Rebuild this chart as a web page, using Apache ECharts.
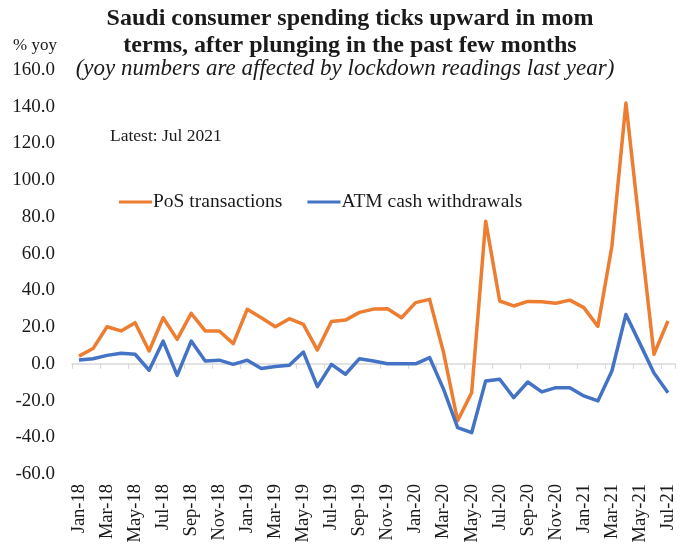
<!DOCTYPE html>
<html>
<head>
<meta charset="utf-8">
<script src="https://cdn.jsdelivr.net/npm/echarts@6/dist/echarts.min.js"></script>
<style>
  html, body { margin: 0; padding: 0; background: #fff; }
  #chart { width: 682px; height: 546px; }
</style>
</head>
<body>
<div id="chart"></div>
<script>
// Monthly categories, Jan-18 .. Jul-21
const months = [
  'Jan-18','Feb-18','Mar-18','Apr-18','May-18','Jun-18','Jul-18','Aug-18','Sep-18','Oct-18','Nov-18','Dec-18',
  'Jan-19','Feb-19','Mar-19','Apr-19','May-19','Jun-19','Jul-19','Aug-19','Sep-19','Oct-19','Nov-19','Dec-19',
  'Jan-20','Feb-20','Mar-20','Apr-20','May-20','Jun-20','Jul-20','Aug-20','Sep-20','Oct-20','Nov-20','Dec-20',
  'Jan-21','Feb-21','Mar-21','Apr-21','May-21','Jun-21','Jul-21'
];

// PoS transactions, % yoy
const posTransactions = [
  4.2, 8.3, 20.2, 17.9, 22.4, 7.0, 25.1, 13.3, 27.5, 17.9, 17.9, 11.0,
  29.7, 25.1, 20.2, 24.6, 21.5, 7.5, 23.0, 23.8, 28.0, 29.8, 30.0, 25.1,
  33.3, 35.1, 6.0, -31.0, -15.7, 77.7, 34.2, 31.5, 34.0, 33.8, 33.0, 34.7,
  30.6, 20.4, 64.0, 142.0, 73.0, 5.2, 23.3
];

// ATM cash withdrawals, % yoy
const atmWithdrawals = [
  2.1, 2.8, 4.6, 5.7, 5.2, -3.5, 12.4, -6.3, 12.4, 1.5, 2.0, -0.3,
  2.0, -2.5, -1.5, -0.8, 6.4, -12.4, -0.3, -5.7, 2.8, 1.5, 0.0, 0.0,
  0.0, 3.4, -13.9, -34.7, -37.5, -9.3, -8.4, -18.4, -9.9, -15.3, -13.0, -13.0,
  -17.5, -20.2, -3.9, 26.9, 11.0, -5.0, -15.7
];

const titleLines = [
  'Saudi consumer spending ticks upward in mom',
  'terms, after plunging in the past few months'
];
const subtitleText = '(yoy numbers are affected by lockdown readings last year)';
const noteText = 'Latest: Jul 2021';
const unitText = '% yoy';

const SERIF = '"Liberation Serif", "DejaVu Serif", serif';
const ORANGE = '#ED7D31';
const BLUE = '#4472C4';
const TEXT = '#1a1a1a';

const chart = echarts.init(document.getElementById('chart'), null, { renderer: 'canvas' });

chart.setOption({
  animation: false,
  backgroundColor: '#ffffff',
  textStyle: { fontFamily: SERIF },
  graphic: [
    {
      type: 'text', x: 350, y: 5,
      style: {
        text: titleLines.join('\n'),
        font: 'bold 24px ' + SERIF, fill: TEXT,
        textAlign: 'center', lineHeight: 27
      }
    },
    {
      type: 'text', x: 345, y: 57,
      style: {
        text: subtitleText,
        font: 'italic 23px ' + SERIF, fill: TEXT, textAlign: 'center'
      }
    },
    {
      type: 'text', x: 13, y: 37,
      style: { text: unitText, font: '17px ' + SERIF, fill: TEXT }
    },
    {
      type: 'text', x: 110, y: 127,
      style: { text: noteText, font: '17.5px ' + SERIF, fill: TEXT }
    }
  ],
  legend: {
    left: 114, top: 187,
    itemWidth: 33, itemHeight: 3, itemGap: 25,
    icon: 'rect',
    textStyle: { fontFamily: SERIF, fontSize: 19.5, color: TEXT, padding: [0, 0, 0, -4] },
    data: ['PoS transactions', 'ATM cash withdrawals']
  },
  grid: { left: 72, right: 7, top: 70, bottom: 72, containLabel: false },
  xAxis: [
    {
      type: 'category', data: months, position: 'bottom',
      boundaryGap: true,
      axisLine: { show: false, onZero: false },
      axisTick: { show: false },
      axisLabel: {
        interval: 1, rotate: 90, margin: 10,
        fontFamily: SERIF, fontSize: 18.5, color: TEXT
      },
      splitLine: { show: false }
    },
    {
      type: 'category', data: months, position: 'bottom',
      boundaryGap: true,
      axisLine: { show: true, onZero: true, lineStyle: { color: '#d9d9d9', width: 1.5 } },
      axisTick: { show: true, interval: 1, length: 5, lineStyle: { color: '#d9d9d9', width: 1.2 } },
      axisLabel: { show: false },
      splitLine: { show: false }
    }
  ],
  yAxis: {
    type: 'value', min: -60, max: 160, interval: 20,
    axisLine: { show: false },
    axisTick: { show: false },
    splitLine: { show: false },
    axisLabel: {
      margin: 17, fontFamily: SERIF, fontSize: 19, color: TEXT,
      formatter: v => v.toFixed(1)
    }
  },
  series: [
    {
      name: 'PoS transactions', type: 'line', xAxisIndex: 0,
      data: posTransactions, symbol: 'none', smooth: false,
      lineStyle: { color: ORANGE, width: 3.5, join: 'round' },
      itemStyle: { color: ORANGE }
    },
    {
      name: 'ATM cash withdrawals', type: 'line', xAxisIndex: 0,
      data: atmWithdrawals, symbol: 'none', smooth: false,
      lineStyle: { color: BLUE, width: 3.5, join: 'round' },
      itemStyle: { color: BLUE }
    }
  ]
});
</script>
</body>
</html>
